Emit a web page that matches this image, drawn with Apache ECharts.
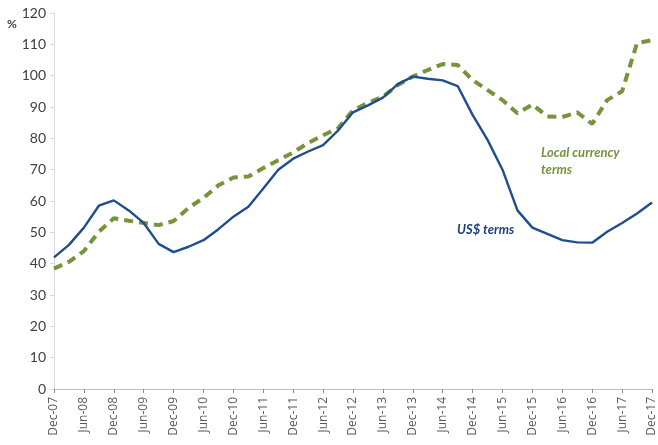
<!DOCTYPE html>
<html lang="en">
<head>
<meta charset="UTF-8">
<title>US$ vs local currency terms</title>
<script src="https://cdn.jsdelivr.net/npm/echarts@6/dist/echarts.min.js"></script>
<style>
  html, body { margin: 0; padding: 0; background: #fff; }
  #main { width: 658px; height: 445px; }
</style>
</head>
<body>
<div id="main"></div>
<script>
// quarterly, Dec-07 .. Dec-17
var quarters = [
  'Dec-07', 'Mar-08', 'Jun-08', 'Sep-08', 'Dec-08', 'Mar-09', 'Jun-09', 'Sep-09',
  'Dec-09', 'Mar-10', 'Jun-10', 'Sep-10', 'Dec-10', 'Mar-11', 'Jun-11', 'Sep-11',
  'Dec-11', 'Mar-12', 'Jun-12', 'Sep-12', 'Dec-12', 'Mar-13', 'Jun-13', 'Sep-13',
  'Dec-13', 'Mar-14', 'Jun-14', 'Sep-14', 'Dec-14', 'Mar-15', 'Jun-15', 'Sep-15',
  'Dec-15', 'Mar-16', 'Jun-16', 'Sep-16', 'Dec-16', 'Mar-17', 'Jun-17', 'Sep-17',
  'Dec-17'
];

var usdTerms = [
  42, 46, 51.5, 58.5, 60.2, 57, 53, 46.3,
  43.7, 45.4, 47.5, 51, 55, 58.2, 64, 70,
  73.5, 75.8, 77.8, 82.5, 88.3, 90.5, 93, 97.3,
  99.7, 99, 98.5, 96.7, 87.5, 79.5, 70, 57,
  51.5, 49.5, 47.5, 46.8, 46.7, 50.2, 53, 56,
  59.5
];

var localTerms = [
  38.4, 40.6, 44, 50.2, 54.5, 53.7, 53, 52.3,
  53.6, 57.8, 61, 65, 67.5, 67.8, 70.5, 73,
  75.5, 78.5, 81, 83.2, 89, 91.3, 93.3, 97,
  99.7, 101.8, 103.7, 103.4, 98.6, 95.4, 92.2, 88,
  90.8, 87, 86.8, 88.3, 84.6, 92.2, 95, 110.4,
  111.3
];

var yTicks = { min: 0, max: 120, interval: 10 };

var chart = echarts.init(document.getElementById('main'));

chart.setOption({
  animation: false,
  backgroundColor: '#ffffff',
  textStyle: { fontFamily: 'Lato, "Open Sans", sans-serif' },
  grid: { left: 54, right: 6, top: 13, bottom: 56 },
  xAxis: {
    type: 'category',
    data: quarters,
    boundaryGap: false,
    axisLine: { lineStyle: { color: '#bfbfbf', width: 1 } },
    axisTick: { show: true, interval: 1, length: 4, inside: false, lineStyle: { color: '#8c8c8c' } },
    axisLabel: {
      interval: 1,
      rotate: 90,
      color: '#595959',
      fontSize: 12,
      margin: 8,
      fontFamily: '"Open Sans", sans-serif'
    },
    splitLine: { show: false }
  },
  yAxis: {
    type: 'value',
    min: yTicks.min,
    max: yTicks.max,
    interval: yTicks.interval,
    axisLine: { show: true, lineStyle: { color: '#d9d9d9', width: 1 } },
    axisTick: { show: true, length: 4, lineStyle: { color: '#d9d9d9' } },
    axisLabel: { color: '#404040', fontSize: 14, margin: 8 },
    splitLine: { show: false }
  },
  graphic: [
    {
      type: 'text', left: 7, top: 18,
      style: { text: '%', fill: '#404040', font: 'bold 12px Lato, sans-serif' }
    },
    {
      type: 'text', left: 541, top: 144,
      style: {
        text: 'Local currency\nterms',
        fill: '#77933c',
        font: 'italic bold 13px Lato, sans-serif',
        lineHeight: 17
      }
    },
    {
      type: 'text', left: 457, top: 223,
      style: { text: 'US$ terms', fill: '#1f3f7a', font: 'italic bold 13px Lato, sans-serif' }
    }
  ],
  series: [
    {
      name: 'Local currency terms',
      type: 'line',
      data: localTerms,
      showSymbol: false,
      z: 2,
      lineStyle: { color: '#77933c', width: 4, type: [9, 6] }
    },
    {
      name: 'US$ terms',
      type: 'line',
      data: usdTerms,
      showSymbol: false,
      z: 3,
      lineStyle: { color: '#1f4e8c', width: 2.4 }
    }
  ]
});
</script>
</body>
</html>
